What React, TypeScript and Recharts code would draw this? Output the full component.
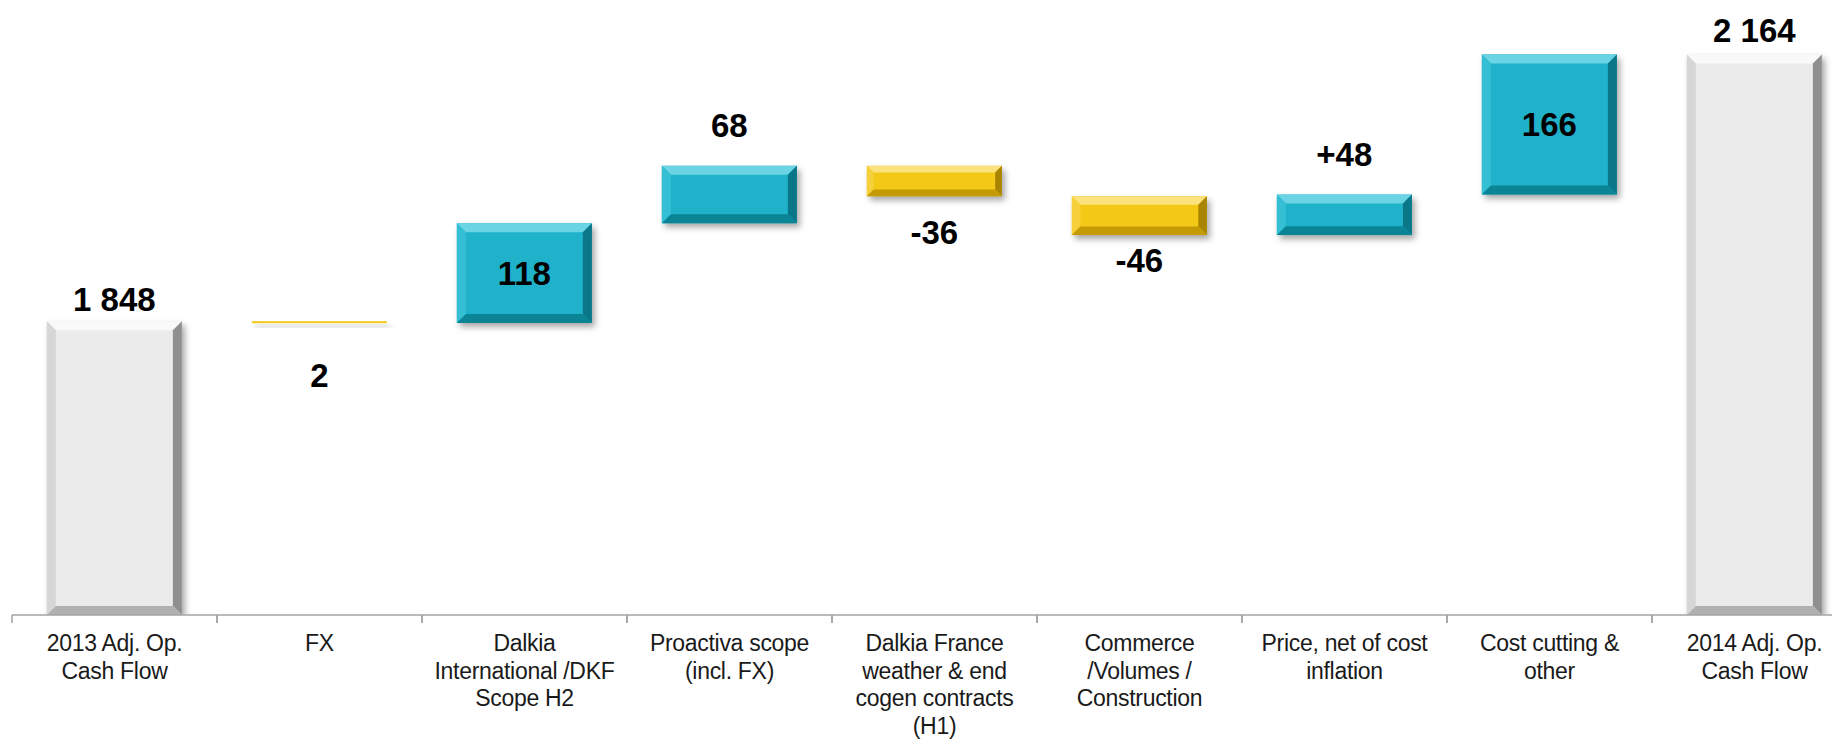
import React from "react";
import { BarChart, Bar, XAxis, YAxis, LabelList } from "recharts";

// Operating cash flow bridge, 2013 -> 2014 (EUR m)
const categories = [
  "2013 Adj. Op.\nCash Flow",
  "FX",
  "Dalkia\nInternational /DKF\nScope H2",
  "Proactiva scope\n(incl. FX)",
  "Dalkia France\nweather & end\ncogen contracts\n(H1)",
  "Commerce\n/Volumes /\nConstruction",
  "Price, net of cost\ninflation",
  "Cost cutting &\nother",
  "2014 Adj. Op.\nCash Flow",
];
const openingValue = 1848;
const deltas = [-2, 118, 68, -36, -46, 48, 166];
const closingValue = 2164;
// sign shown in front of each value label
const labelSigns = ["", "", "", "", "-", "-", "+", "", ""];

// label placement per bar: edge + offset to text baseline
const labelPlace: ("top" | "inside" | "below")[] = [
  "top", "below", "inside", "top", "below", "below", "top", "inside", "top",
];
const labelDy = [-10, 64, 0, -29, 48, 37, -29, 0, -12];

const Y_MIN = 1500;
const Y_MAX = 2200;
const CHART_W = 1857;
const CHART_H = 739;
const MARGIN = { top: 24, right: 0, bottom: 0, left: 12 };
const SLOT = (CHART_W - MARGIN.left - MARGIN.right) / categories.length;

type Row = { name: string; range: [number, number]; kind: "total" | "up" | "down"; value: number };

const rows: Row[] = (() => {
  const out: Row[] = [{ name: categories[0], range: [Y_MIN, openingValue], kind: "total", value: openingValue }];
  let run = openingValue;
  deltas.forEach((d, i) => {
    const next = run + d;
    out.push({
      name: categories[i + 1],
      range: [Math.min(run, next), Math.max(run, next)],
      kind: d >= 0 ? "up" : "down",
      value: d,
    });
    run = next;
  });
  out.push({ name: categories[categories.length - 1], range: [Y_MIN, closingValue], kind: "total", value: closingValue });
  return out;
})();

const PALETTE = {
  up: { face: "#1fb2ca", top: "#6ad4e4", left: "#35bfd4", right: "#0a7788", bottom: "#0b8496" },
  down: { face: "#f4c816", top: "#fbe27c", left: "#f5d03a", right: "#a98400", bottom: "#c49a06" },
  total: { face: "#ebebeb", top: "#f9f9f9", left: "#d6d6d6", right: "#8f8f8f", bottom: "#b0b0b0" },
};

const fmt = (v: number) => String(Math.round(Math.abs(v))).replace(/\B(?=(\d{3})+(?!\d))/g, " ");

function BevelBar(props: any) {
  const { x, y, width: w, height: h, payload } = props;
  if (w == null || h == null) return null;
  const c = PALETTE[payload.kind as keyof typeof PALETTE];
  const hh = Math.max(h, 2);
  const b = Math.min(9, hh * 0.22, w * 0.1);
  const pts = (a: number[][]) => a.map((p) => p.join(",")).join(" ");
  return (
    <g>
      <rect x={x + 3} y={y + 4} width={w} height={hh} fill="rgba(0,0,0,0.35)" filter="url(#barShadow)" />
      <rect x={x} y={y} width={w} height={hh} fill={c.face} />
      {b > 1 && (
        <>
          <polygon points={pts([[x, y], [x + w, y], [x + w - b, y + b], [x + b, y + b]])} fill={c.top} />
          <polygon points={pts([[x, y], [x + b, y + b], [x + b, y + hh - b], [x, y + hh]])} fill={c.left} />
          <polygon points={pts([[x + w, y], [x + w, y + hh], [x + w - b, y + hh - b], [x + w - b, y + b]])} fill={c.right} />
          <polygon points={pts([[x, y + hh], [x + w, y + hh], [x + w - b, y + hh - b], [x + b, y + hh - b]])} fill={c.bottom} />
        </>
      )}
    </g>
  );
}

function ValueLabel(props: any) {
  const { x, y, width, height, index } = props;
  const row = rows[index];
  const place = labelPlace[index];
  const cx = x + width / 2;
  let ty = y + height / 2;
  let baseline: any = "central";
  if (place === "top") {
    ty = y + labelDy[index];
    baseline = "auto";
  } else if (place === "below") {
    ty = y + Math.max(height, 2) + labelDy[index];
    baseline = "auto";
  }
  return (
    <text
      x={cx}
      y={ty}
      textAnchor="middle"
      dominantBaseline={baseline}
      fontFamily="'Liberation Sans', Arial, sans-serif"
      fontWeight="bold"
      fontSize={33}
      fill="#000"
    >
      {labelSigns[index] + fmt(row.value)}
    </text>
  );
}

function CategoryTick(props: any) {
  const { x, y, payload } = props;
  const lines = String(payload.value).split("\n");
  return (
    <g>
      <line x1={x - SLOT / 2} x2={x - SLOT / 2} y1={y} y2={y + 8} stroke="#a3a3a3" strokeWidth={1.5} />
      <line x1={x + SLOT / 2} x2={x + SLOT / 2} y1={y} y2={y + 8} stroke="#a3a3a3" strokeWidth={1.5} />
      <text
        x={x}
        y={y + 36}
        textAnchor="middle"
        fontFamily="'Liberation Sans', Arial, sans-serif"
        fontSize={23}
        letterSpacing={-0.3}
        fill="#1a1a1a"
      >
        {lines.map((l, i) => (
          <tspan key={i} x={x} dy={i === 0 ? 0 : 27.5}>
            {l}
          </tspan>
        ))}
      </text>
    </g>
  );
}

export default function App() {
  return (
    <div
      style={{
        position: "fixed",
        left: 0,
        top: 0,
        width: 1832,
        height: 739,
        overflow: "hidden",
        background: "#fff",
      }}
    >
      <BarChart width={CHART_W} height={CHART_H} data={rows} margin={MARGIN} barCategoryGap="17%">
        <defs>
          <filter id="barShadow" x="-20%" y="-20%" width="140%" height="140%">
            <feGaussianBlur stdDeviation="3" />
          </filter>
        </defs>
        <XAxis
          dataKey="name"
          interval={0}
          height={124}
          tickLine={false}
          tickSize={0}
          tickMargin={0}
          axisLine={{ stroke: "#a3a3a3", strokeWidth: 1.5 }}
          tick={<CategoryTick />}
        />
        <YAxis hide domain={[Y_MIN, Y_MAX]} allowDataOverflow />
        <Bar dataKey="range" shape={<BevelBar />} isAnimationActive={false}>
          <LabelList dataKey="range" content={<ValueLabel />} />
        </Bar>
      </BarChart>
    </div>
  );
}
